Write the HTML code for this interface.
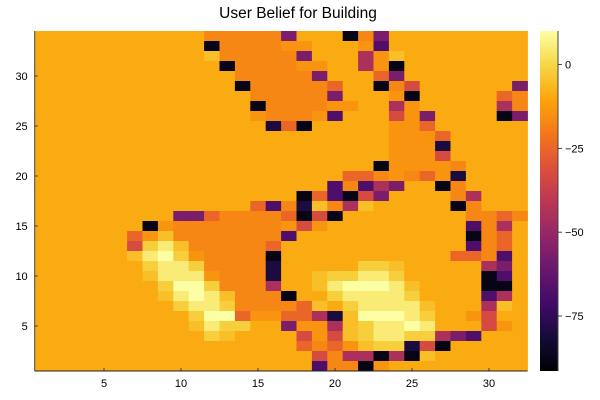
<!DOCTYPE html>
<html><head><meta charset="utf-8">
<style>
body{margin:0;background:#fff;}
svg{display:block;font-family:"Liberation Sans","DejaVu Sans",sans-serif;}
</style></head>
<body>
<svg id="chart" width="600" height="400" viewBox="0 0 600 400">
<text x="298" y="18" font-size="15.5" text-anchor="middle" fill="#000">User Belief for Building</text>
<g id="cells"></g>
<g id="axes"></g>
<g id="cbar"></g>
</svg>
<script>
// Rows listed from top (y=34) to bottom (y=1); each char is one column x=1..32
const O = n => "o".repeat(n);
const rowCodes = [
O(11)+"d"+"dddd"+"p"+"ooo"+"k"+"d"+"p"+O(9),
O(11)+"k"+"dddd"+"ee"+"ooo"+"e"+"v"+O(9),
O(11)+"g"+"dddd"+"d"+"p"+"ooo"+"m"+"e"+"g"+O(8),
O(12)+"k"+"ddd"+"d"+"ee"+"oo"+"m"+"e"+"k"+O(8),
O(13)+"ddd"+"dd"+"p"+"ooo"+"r"+"p"+O(8),
O(13)+"k"+"dd"+"ddd"+"r"+"oo"+"k"+"d"+"R"+O(5)+"o"+"p",
O(14)+"dd"+"ddd"+"p"+"ooo"+"e"+"k"+O(5)+"r"+"d",
O(14)+"k"+"d"+"ddd"+"ee"+"oo"+"m"+"e"+O(5)+"m"+"d",
O(14)+"e"+"d"+"dd"+"e"+"v"+"ooo"+"R"+"e"+"p"+O(4)+"k"+"p",
O(15)+"nrk"+O(5)+"eer"+O(6),
O(23)+"eeer"+O(5),
O(23)+"eeen"+O(5),
O(23)+"eeeR"+O(5),
O(22)+"k"+"eeee"+"d"+O(4),
O(20)+"rrdedren"+O(4),
O(19)+"vdvmp"+"oo"+"kd"+O(4),
O(17)+"krvkRp"+O(4)+"dm"+O(3),
O(14)+"rvdngdmg"+O(5)+"kd"+O(3),
O(9)+"ppr"+"dddd"+"rkRk"+O(8)+"ddrd",
O(7)+"ke"+"ddddddd"+"eRe"+O(9)+"vdmo",
O(6)+"reg"+"ddddddd"+"v"+O(11)+"kdro",
O(6)+"Rylg"+"ddddd"+"r"+"o"+O(11)+"vdro",
O(6)+"glwye"+"dddd"+"k"+O(11)+"rrdvo",
O(7)+"ylly"+"dddd"+"n"+O(5)+"yy"+"g"+O(5)+"mpo",
O(7)+"g"+"lll"+"e"+"ddd"+"n"+"oo"+"g"+"y"+"y"+"ll"+"y"+O(5)+"kvo",
O(8)+"ywwy"+"ddd"+"m"+"oo"+"g"+"l"+"www"+"l"+"g"+O(4)+"kko",
O(8)+"glwlg"+"ddd"+"k"+"oo"+"y"+"llll"+"y"+O(4)+"vmo",
O(9)+"ylly"+"ddd"+"d"+"r"+"g"+"o"+"y"+"llll"+"g"+O(3)+"mgo",
O(10)+"yww"+"ree"+"rr"+"mn"+"g"+"www"+"l"+"y"+"oo"+"e"+"R"+"oo",
O(10)+"gly"+"y"+"oo"+"p"+"ee"+"m"+"g"+"y"+"ll"+"w"+"l"+O(3)+"R"+"e"+"o",
O(11)+"yg"+O(4)+"ReR"+"gy"+"ll"+"yy"+"mpv"+O(3),
O(17)+"rdreg"+"yy"+"nRk"+O(5),
O(18)+"Rd"+"mm"+"kmkg"+O(6),
O(18)+"vddke"+O(9)
];
const codeValues = {o:-9,g:-5,e:-14,d:-17,r:-25,R:-33,m:-45,p:-57,v:-68,n:-80,k:-88,y:-2,l:5,w:10};
const xTicks = [5,10,15,20,25,30];
const yTicks = [5,10,15,20,25,30];
const cbarTicks = [0,-25,-50,-75];
const cbarLabels = ["0","\u221225","\u221250","\u221275"];
const vmin = -91.4, vmax = 10;

const NS = "http://www.w3.org/2000/svg";
const nCols = 32, nRows = 34;
const px0 = 34.7, px1 = 527.5, py0 = 31, py1 = 371;
const cw = (px1 - px0) / nCols, ch = (py1 - py0) / nRows;
const xScale = c => px0 + (c - 0.5) * cw;
const yScale = r => py1 - (r - 0.5) * ch;
const stops = ["#000004","#160b39","#420a68","#6a176e","#932667","#bc3754","#dd513a","#f37819","#fca50a","#f6d746","#fcffa4"];
function hex(h){return [1,3,5].map(i=>parseInt(h.substr(i,2),16));}
function inferno(t){
  t=Math.max(0,Math.min(1,t));
  const s=t*10, i=Math.min(9,Math.floor(s)), f=s-i;
  const a=hex(stops[i]), b=hex(stops[i+1]);
  return "rgb("+a.map((v,k)=>Math.round(v+(b[k]-v)*f)).join(",")+")";
}
const colorOf = v => inferno((v - vmin) / (vmax - vmin));
function mk(tag, attrs, parent){const e=document.createElementNS(NS,tag);for(const k in attrs)e.setAttribute(k,attrs[k]);parent.appendChild(e);return e;}

const cells = document.getElementById("cells");
rowCodes.forEach((code, i) => {
  const r = nRows - i;
  for (let c = 1; c <= nCols; c++) {
    const ch0 = code[c-1] || "o";
    const v = codeValues[ch0] !== undefined ? codeValues[ch0] : codeValues.o;
    const rect = mk("rect", {x:(xScale(c)-cw/2).toFixed(2), y:(yScale(r)-ch/2).toFixed(2), width:(cw+0.4).toFixed(2), height:(ch+0.4).toFixed(2), fill:colorOf(v)}, cells);
    
    
  }
});

const axes = document.getElementById("axes");
const lAxis = mk("line",{x1:px0,y1:py0,x2:px0,y2:py1,stroke:"#444","stroke-width":1},axes);


const bAxis = mk("line",{x1:px0,y1:py1,x2:px1,y2:py1,stroke:"#222","stroke-width":1},axes);


xTicks.forEach(t => {
  const x = xScale(t);
  mk("line",{x1:x,y1:py1,x2:x,y2:py1-3,stroke:"#222","stroke-width":0.8},axes);
  const tx = mk("text",{x:x,y:py1+16,"font-size":11,"text-anchor":"middle",fill:"#000"},axes);
  tx.textContent = t;
  
  
});
yTicks.forEach(t => {
  const y = yScale(t);
  mk("line",{x1:px0,y1:y,x2:px0+3,y2:y,stroke:"#222","stroke-width":0.8},axes);
  const tx = mk("text",{x:px0-7,y:y+4,"font-size":11,"text-anchor":"end",fill:"#000"},axes);
  tx.textContent = t;
  
  
});

const cbar = document.getElementById("cbar");
const cx0 = 540, cx1 = 558;
const cbY = v => py1 - (v - vmin) / (vmax - vmin) * (py1 - py0);
const defs = mk("defs",{},cbar);
const grad = mk("linearGradient",{id:"cg",x1:0,y1:1,x2:0,y2:0},defs);
for (let i=0;i<=20;i++){ mk("stop",{offset:(i/20),"stop-color":inferno(i/20)},grad); }
const cb = mk("rect",{x:cx0,y:py0,width:cx1-cx0,height:py1-py0,fill:"url(#cg)"},cbar);


mk("line",{x1:cx1,y1:py0,x2:cx1,y2:py1,stroke:"#444","stroke-width":1},cbar);
cbarTicks.forEach((t,i) => {
  const y = cbY(t);
  mk("line",{x1:cx1,y1:y,x2:cx1+4,y2:y,stroke:"#222","stroke-width":0.8},cbar);
  const tx = mk("text",{x:cx1+7,y:y+4,"font-size":11,fill:"#000"},cbar);
  tx.textContent = cbarLabels[i];
  
  
});
</script>
</body></html>
